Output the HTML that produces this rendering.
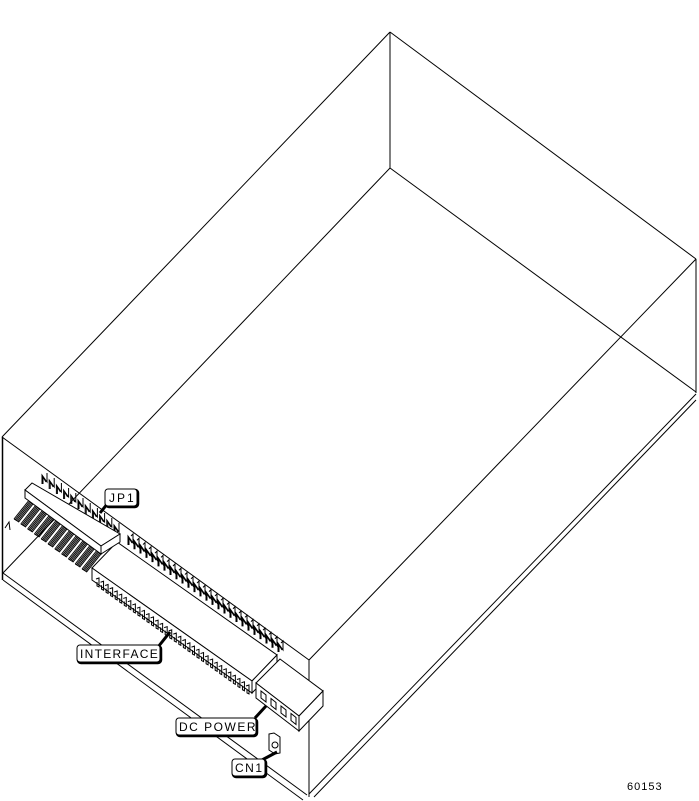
<!DOCTYPE html>
<html><head><meta charset="utf-8"><style>
html,body{margin:0;padding:0;background:#fff;}
svg{display:block;}
text{font-family:"Liberation Sans",sans-serif;}
</style></head><body>
<svg id="s" width="699" height="801" viewBox="0 0 699 801" xmlns="http://www.w3.org/2000/svg">
<g stroke="#000" stroke-width="1" fill="none">
<line x1="390" y1="32" x2="390" y2="168"/>
<line x1="390" y1="32" x2="696" y2="259"/>
<line x1="390" y1="32" x2="2" y2="437"/>
<line x1="696" y1="259" x2="696" y2="393"/>
<line x1="390" y1="168" x2="696" y2="392"/>
<line x1="390" y1="168" x2="3" y2="573"/>
<line x1="696" y1="259" x2="309" y2="660"/>
<line x1="2" y1="437" x2="309" y2="660"/>
<line x1="2.5" y1="437" x2="2.5" y2="580" stroke-width="1.5"/>
<line x1="309" y1="660" x2="309" y2="797"/>
<line x1="3" y1="573" x2="307" y2="795"/>
<line x1="3" y1="580" x2="303" y2="800"/>
<line x1="696" y1="394" x2="309" y2="794"/>
<line x1="696" y1="400" x2="314" y2="797"/>
</g>
<g id="parts" stroke="#000" stroke-width="1" fill="#fff"></g>
<g stroke="#000" fill="#fff">
<path d="M100,513 L108,503" stroke-width="3" fill="none"/>
<rect x="106" y="490" width="32" height="17" rx="3" stroke-width="2.5"/>
<rect x="105" y="489" width="32" height="17" rx="3" stroke-width="1"/>
<path d="M158,647 L170,632" stroke-width="3" fill="none"/>
<rect x="78" y="646" width="83" height="17" rx="3" stroke-width="2.5"/>
<rect x="77" y="645" width="83" height="17" rx="3" stroke-width="1"/>
<path d="M255,718 L266,706" stroke-width="3" fill="none"/>
<rect x="177" y="719" width="80" height="17" rx="3" stroke-width="2.5"/>
<rect x="176" y="718" width="80" height="17" rx="3" stroke-width="1"/>
<path d="M262,760 L277,752" stroke-width="3" fill="none"/>
<rect x="233" y="760" width="33" height="17" rx="3" stroke-width="2.5"/>
<rect x="232" y="759" width="33" height="17" rx="3" stroke-width="1"/>
</g>
<g font-size="12" fill="#000">
<text x="109" y="502" letter-spacing="2">JP1</text>
<text x="80" y="658" letter-spacing="1.3">INTERFACE</text>
<text x="179" y="731" letter-spacing="1.5">DC POWER</text>
<text x="235" y="772" letter-spacing="1.5">CN1</text>
<text x="627" y="790" font-size="11" letter-spacing="1">60153</text>
</g>
</svg>
<script>
var g=document.getElementById('parts');var NS='http://www.w3.org/2000/svg';
function el(t,a){var e=document.createElementNS(NS,t);for(var k in a)e.setAttribute(k,a[k]);g.appendChild(e);return e;}
function poly(p,f){return el('polygon',{points:p.map(function(q){return q.join(',')}).join(' '),fill:f||'#fff'});}
function pl(p){return el('polyline',{points:p.map(function(q){return q.join(',')}).join(' '),fill:'none'});}
var n=26;for(var i=0;i<n;i++){var t=i/(n-1);var x=128+150*t,y=545+107*t;
pl([[x,y],[x,y-9],[x+5,y-2],[x+5,y-11],[x+3,y-9]]);pl([[x+1,y],[x+1,y-7],[x+4,y-2]]);}
var A=[92,568],B=[117,542],C=[277,655],D=[252,681],h=12;
poly([A,B,C,D]);poly([A,D,[D[0],D[1]+h],[A[0],A[1]+h]]);poly([D,C,[C[0],C[1]+h],[D[0],D[1]+h]]);
n=34;for(var i=0;i<n;i++){var t=i/(n-1);var x=96+150*t,y=579+107*t;
pl([[x,y],[x+3,y-1],[x+3,y+8],[x+1,y+7],[x+1,y+3]]);}
n=11;for(var i=0;i<n;i++){var t=i/(n-1);var x=42+72*t,y=484+50*t;
pl([[x,y],[x,y-9],[x+5,y-2],[x+5,y-11]]);pl([[x+1,y],[x+1,y-7],[x+4,y-2]]);}
n=11;for(var i=0;i<n;i++){var t=i/(n-1);var x=30+68*t,y=499+50*t;
for(var j=0;j<5;j++){pl([[x+j*1.1,y+j*0.8],[x-16+j*1.1,y+20+j*0.8]]);}
pl([[x-16,y+20],[x-11,y+23]]);}
var a=[25,490],b=[32,483],c=[120,534],d=[101,546];h=8;
poly([a,b,c,d]);poly([a,d,[d[0],d[1]+h],[a[0],a[1]+h]]);poly([d,c,[c[0],c[1]+h],[d[0],d[1]+h]]);
pl([[5,528],[9,522],[10,530]]);
a=[256,683];b=[280,659];c=[323,691];d=[299,716];h=15;
poly([a,b,c,d]);poly([a,d,[d[0],d[1]+h],[a[0],a[1]+h]]);poly([d,c,[c[0],c[1]+h],[d[0],d[1]+h]]);
for(var i=0;i<4;i++){var x=261+i*10,y=691+i*7.5;poly([[x,y],[x+5,y+4],[x+5,y+11],[x,y+7]]);}
poly([[269,734],[274,733],[280,737],[280,753],[275,754],[269,750]]);
el('circle',{cx:275,cy:745,r:3});
</script>
</body></html>
